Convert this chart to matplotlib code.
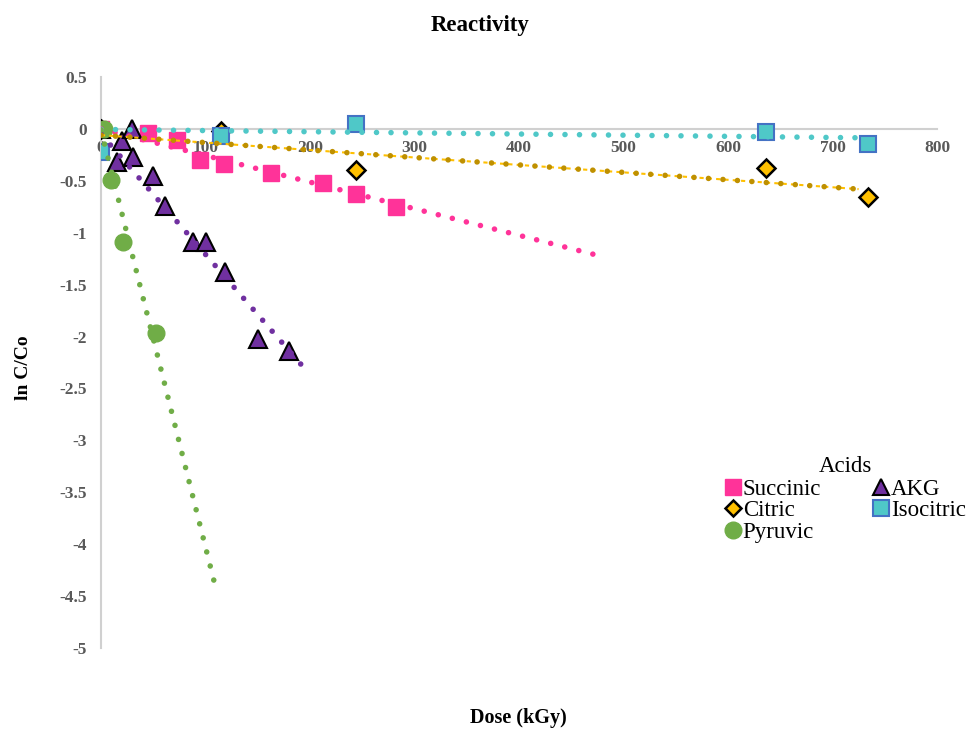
import numpy as np
import matplotlib
matplotlib.use("Agg")
import matplotlib.pyplot as plt
from matplotlib.lines import Line2D

plt.rcParams['font.family'] = ['Liberation Serif', 'DejaVu Serif']

# measured points (dose in kGy, ln C/Co)
succinic_x = [0, 45, 73, 95, 118, 163, 212, 244, 282]
succinic_y = [0, -0.04, -0.11, -0.30, -0.34, -0.42, -0.52, -0.63, -0.75]

akg_x = [0, 15, 20, 30, 31, 50, 61, 88, 100, 119, 150, 180]
akg_y = [0, -0.32, -0.12, 0.0, -0.27, -0.45, -0.74, -1.09, -1.09, -1.38, -2.02, -2.14]

citric_x = [0, 115, 244, 636, 734]
citric_y = [0, -0.02, -0.40, -0.375, -0.66]

isocitric_x = [0, 115, 244, 636, 734]
isocitric_y = [-0.22, -0.07, 0.05, -0.03, -0.15]

pyruvic_x = [3, 10, 21, 53]
pyruvic_y = [0, -0.49, -1.09, -1.97]

# trendline end points: (x0, x1), (y0, y1)
succinic_trend = ([0, 480], [0.0, -1.23])
akg_trend = ([0, 195], [-0.05, -2.31])
citric_trend = ([0, 725], [-0.06, -0.58])
isocitric_trend = ([0, 722], [-0.005, -0.085])
pyruvic_trend = ([0, 110], [-0.01, -4.43])

x_ticks = [0, 100, 200, 300, 400, 500, 600, 700, 800]
y_ticks = [0.5, 0, -0.5, -1, -1.5, -2, -2.5, -3, -3.5, -4, -4.5, -5]

pink = '#FF3399'
purple = '#7030A0'
yellow = '#FFC000'
gold = '#BF9000'
cyan = '#4FC8C8'
blue_edge = '#4472C4'
green = '#70AD47'

fig = plt.figure(figsize=(9.71, 7.32), dpi=100)
ax = fig.add_axes([101 / 971, 1 - 648 / 732, 836 / 971, 571 / 732])

dotted = (0, (0.01, 2.6))


def trend(xy, color, lw=4.0):
    ax.plot(xy[0], xy[1], color=color, lw=lw, linestyle=dotted,
            dash_capstyle='round', zorder=4)


# series, in the workbook order
ax.plot(succinic_x, succinic_y, 's', color=pink, ms=11, mec=pink, zorder=3)
trend(succinic_trend, pink)

ax.plot(akg_x, akg_y, '^', color=purple, ms=13, mec='black', mew=1.5, zorder=3)
trend(akg_trend, purple)

ax.plot(citric_x, citric_y, 'D', color=yellow, ms=9, mec='black', mew=1.8, zorder=3)
ax.plot(citric_trend[0], citric_trend[1], color=yellow, lw=1.5, linestyle=(0, (2, 2)), zorder=4)
trend(citric_trend, gold)

ax.plot(isocitric_x, isocitric_y, 's', color=cyan, ms=12, mec=blue_edge, mew=1.5, zorder=3)
trend(isocitric_trend, cyan)

ax.plot(pyruvic_x, pyruvic_y, 'o', color=green, ms=12, mec=green, zorder=3)
trend(pyruvic_trend, green)

ax.set_xlim(0, 800)
ax.set_ylim(-5, 0.5)
ax.set_xticks(x_ticks)
ax.set_yticks(y_ticks)
ax.set_xticklabels([str(v) for v in x_ticks])
ax.set_yticklabels(['0.5', '0', '-0.5', '-1', '-1.5', '-2', '-2.5', '-3', '-3.5', '-4', '-4.5', '-5'])

for s in ['top', 'right']:
    ax.spines[s].set_visible(False)
ax.spines['bottom'].set_position(('data', 0))
ax.spines['left'].set_color('#D0D0D0')
ax.spines['bottom'].set_color('#D0D0D0')
ax.spines['left'].set_linewidth(1.5)
ax.spines['bottom'].set_linewidth(1.5)
ax.tick_params(length=0, labelsize=12.5, labelcolor='#595959')
ax.tick_params(axis='y', pad=10)
ax.tick_params(axis='x', pad=8)
for lab in ax.get_xticklabels() + ax.get_yticklabels():
    lab.set_fontweight('bold')

fig.text(480 / 971, 1 - 25 / 732, 'Reactivity', ha='center', va='center',
         fontsize=16.5, fontweight='bold')
fig.text(518 / 971, 1 - 718 / 732, 'Dose (kGy)', ha='center', va='center',
         fontsize=14.5, fontweight='bold')
fig.text(23 / 971, 1 - 368 / 732, 'ln C/Co', ha='center', va='center',
         rotation=90, fontsize=14, fontweight='bold')

handles = [
    Line2D([], [], marker='s', ls='', color=pink, mec=pink, ms=11),
    Line2D([], [], marker='D', ls='', color=yellow, mec='black', mew=1.8, ms=8),
    Line2D([], [], marker='o', ls='', color=green, mec=green, ms=12),
    Line2D([], [], marker='^', ls='', color=purple, mec='black', mew=1.5, ms=12),
    Line2D([], [], marker='s', ls='', color=cyan, mec=blue_edge, mew=1.5, ms=12),
]
labels = ['Succinic', 'Citric', 'Pyruvic', 'AKG', 'Isocitric']
leg = fig.legend(handles, labels, title='Acids', ncol=2, frameon=False,
                 loc='upper left', bbox_to_anchor=(714 / 971, 1 - 445 / 732),
                 fontsize=16.5, title_fontsize=16.5, handlelength=0.65,
                 handletextpad=0.1, columnspacing=2.3, labelspacing=0.02,
                 borderpad=0)
leg._legend_box.sep = 1

fig.savefig('out.png', dpi=100)
